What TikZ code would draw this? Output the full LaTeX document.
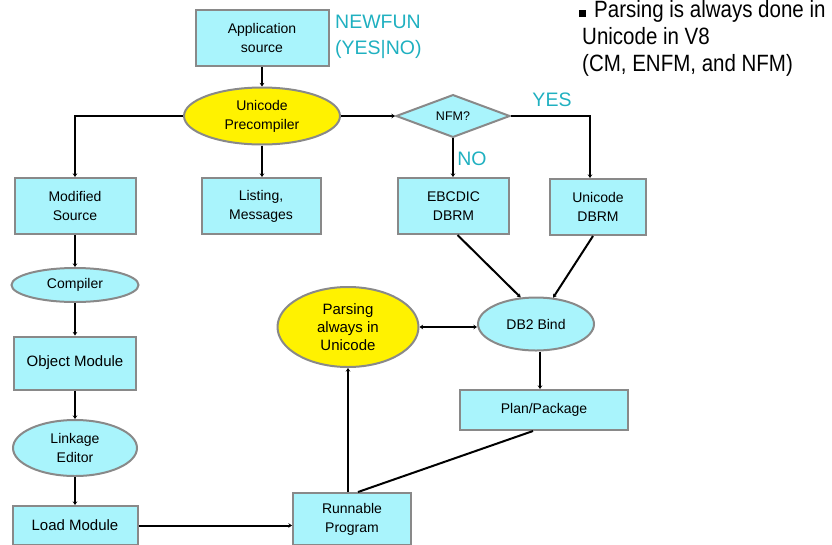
\documentclass[tikz,border=0pt]{standalone}
\usepackage{fontspec}
\setmainfont{Liberation Sans}
\usetikzlibrary{shapes.geometric,arrows.meta}
\definecolor{boxcyan}{HTML}{A9F4FC}
\definecolor{edgegray}{HTML}{898989}
\definecolor{tagteal}{HTML}{1FB0C0}
\begin{document}
\begin{tikzpicture}
	[x=1pt,y=-1pt,
	box/.style={rectangle,draw=edgegray,line width=2pt,fill=boxcyan,align=center,inner sep=0pt,font=\fontsize{14}{19}\selectfont},
	oval/.style={ellipse,draw=edgegray,line width=2pt,fill=boxcyan,align=center,inner sep=0pt,font=\fontsize{14}{19}\selectfont},
	hot/.style={oval,fill=yellow},
	tag/.style={text=tagteal,inner sep=0pt,font=\fontsize{19.5}{26}\selectfont,align=left},
	note/.style={anchor=base west,inner sep=0pt,font=\fontsize{20.5}{27}\selectfont},
	wire/.style={->,black,line width=2pt},
	>={Stealth[length=3.5pt,width=4.5pt]}]
	\useasboundingbox (0,0) rectangle (832,544);
	% precompile stage
	\node[box,name=app,minimum width=133,minimum height=56]at(262,38){Application\\source};
	\node[tag,name=newfun,anchor=west]at(335,37){NEWFUN\\(YES|NO)};
	\node[hot,name=pre,minimum width=156,minimum height=57]at(262,116){Unicode\\Precompiler};
	\node[diamond,draw=edgegray,line width=2pt,fill=boxcyan,inner sep=0pt,name=nfm,minimum width=114,minimum height=32,font=\fontsize{12.5}{15}\selectfont]at(453,116){NFM?};
	\node[tag,name=yes]at(552,100){YES};
	\node[tag,name=no]at(472,159){NO};
	\node[box,name=mod,minimum width=121,minimum height=56]at(75,206){Modified\\Source};
	\node[box,name=list,minimum width=119,minimum height=56]at(261,206){Listing,\\Messages};
	\node[box,name=ebcdic,minimum width=111,minimum height=56]at(453.5,206){EBCDIC\\DBRM};
	\node[box,name=udbrm,minimum width=96,minimum height=56]at(598,207){Unicode\\DBRM};
	% compile and link
	\node[oval,name=comp,minimum width=127,minimum height=34]at(75,285){Compiler};
	\node[box,name=obj,minimum width=122,minimum height=53,font=\fontsize{15}{19}\selectfont]at(75,363){Object Module};
	\node[oval,name=link,minimum width=124,minimum height=56]at(75,448){Linkage\\Editor};
	\node[box,name=load,minimum width=125,minimum height=39,font=\fontsize{15}{19}\selectfont]at(75,525.5){Load Module};
	\node[box,name=run,minimum width=118,minimum height=52]at(352,519){Runnable\\Program};
	% bind
	\node[hot,name=parse,minimum width=141,minimum height=80,font=\fontsize{15}{18}\selectfont]at(348,327){Parsing\\always in\\Unicode};
	\node[oval,name=db2,minimum width=116,minimum height=53]at(536,324){DB2 Bind};
	\node[box,name=plan,minimum width=168,minimum height=40]at(544,410){Plan/Package};
	% side note
	\node[note,name=note1]at(579,17){\rule{7pt}{7pt}\hspace{8pt}\scalebox{1}[1.15]{Parsing is always done in}};
	\node[note,name=note2]at(582,44){\scalebox{1}[1.15]{Unicode in V8}};
	\node[note,name=note3]at(582,71){\scalebox{1}[1.15]{(CM, ENFM, and NFM)}};
	\draw[wire](app)--(pre);
	\draw[wire](pre)--(nfm);
	\draw[wire](pre.west)-|(mod.north);
	\draw[wire](pre.south)--(pre.south|-list.north);
	\draw[wire](nfm.south)--(nfm.south|-ebcdic.north);
	\draw[wire](nfm.east)-|([xshift=-8pt]udbrm.north);
	\draw[wire](mod)--(comp);
	\draw[wire](comp)--(obj);
	\draw[wire](obj)--(link);
	\draw[wire](link)--(load);
	\draw[wire](load.east)--(load.east-|run.west);
	\draw[wire]([xshift=-4pt]run.north)--(parse.south);
	\draw[wire,<->](parse.east)--(parse.east-|db2.west);
	\draw[wire]([xshift=4pt]ebcdic.south)--(db2.120);
	\draw[wire]([xshift=-5pt]udbrm.south)--(db2.57);
	\draw[wire]([xshift=4pt]db2.south)--([xshift=4pt]db2.south|-plan.north);
	\draw[wire,-]([xshift=-11pt]plan.south)--([xshift=6pt]run.north);
\end{tikzpicture}
\end{document}
